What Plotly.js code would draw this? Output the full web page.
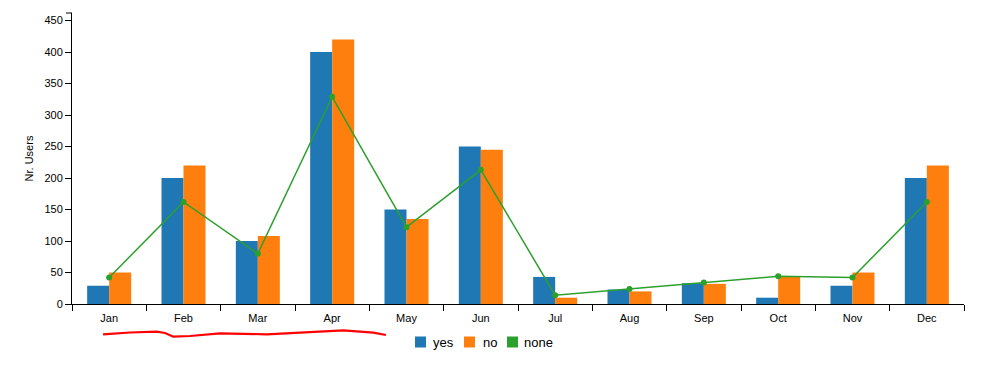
<!DOCTYPE html>
<html>
<head>
<meta charset="utf-8">
<script src="https://cdn.plot.ly/plotly-3.0.1.min.js"></script>
<style>html,body{margin:0;padding:0;background:#fff;}#chart{width:999px;height:370px;}</style>
</head>
<body>
<div id="chart"></div>
<script>
var months = ["Jan","Feb","Mar","Apr","May","Jun","Jul","Aug","Sep","Oct","Nov","Dec"];
var yesValues = [29, 200, 100, 400, 150, 250, 43, 23, 33, 10, 29, 200];
var noValues = [50, 220, 108, 420, 135, 245, 10, 20, 32, 43, 50, 220];
var noneValues = [42, 162, 80, 329, 122, 213, 14, 24, 34, 44, 42, 162];
var yTicks = [0, 50, 100, 150, 200, 250, 300, 350, 400, 450];
var seriesNames = ["yes", "no", "none"];
var seriesColors = ["#1f77b4", "#ff7f0e", "#2ca02c"];

var font = "Liberation Sans, Arial, sans-serif";
var M = {l: 72, r: 35, t: 13, b: 66};
var W = 999, H = 370;
var PW = W - M.l - M.r, PH = H - M.t - M.b;
function px(xp) { return (xp - M.l) / PW; }
function py(yp) { return (H - M.b - yp) / PH; }

var traces = [
  {type: "bar", name: seriesNames[0], x: months, y: yesValues, marker: {color: seriesColors[0]}},
  {type: "bar", name: seriesNames[1], x: months, y: noValues, marker: {color: seriesColors[1]}},
  {type: "scatter", mode: "lines+markers", name: seriesNames[2], x: months, y: noneValues,
   line: {color: seriesColors[2], width: 1.5}, marker: {color: seriesColors[2], size: 6}}
];

// manual legend (swatch squares + labels)
var legendSwatchX = [415, 464, 507];
var legendTextX = [431, 480.5, 522];
var shapes = [
  {type: "line", xref: "paper", yref: "paper", x0: px(66), x1: 0, y0: 1, y1: 1, line: {color: "#000", width: 1}},
  {type: "path", xref: "paper", yref: "paper",
   path: "M" + [[103,334.3],[130,332.5],[156.7,331.7],[165,333],[173.3,336.7],[190,336],[220,333.3],[266.7,334.3],[343.3,330.3],[373.3,332.7],[386,335]]
     .map(function(p){return px(p[0]).toFixed(4) + "," + py(p[1]).toFixed(4);}).join(" L"),
   line: {color: "#ff0000", width: 2.2}}
];
var annotations = [];
for (var i = 0; i < seriesNames.length; i++) {
  shapes.push({type: "rect", xref: "paper", yref: "paper",
    x0: px(legendSwatchX[i]), x1: px(legendSwatchX[i] + 11), y0: py(347.5), y1: py(336.5),
    fillcolor: seriesColors[i], line: {width: 0}});
  annotations.push({xref: "paper", yref: "paper", x: px(legendTextX[i]), y: py(342),
    xanchor: "left", yanchor: "middle", showarrow: false, text: seriesNames[i],
    font: {size: 13, family: font, color: "#000"}});
}

var layout = {
  width: W, height: H,
  margin: {l: M.l, r: M.r, t: M.t, b: M.b, autoexpand: false},
  paper_bgcolor: "#fff", plot_bgcolor: "#fff",
  font: {family: font, size: 11, color: "#000"},
  barmode: "group", bargap: 0.408, bargroupgap: 0,
  showlegend: false,
  xaxis: {
    type: "category", categoryarray: months, range: [-0.5, 11.5], tickson: "boundaries",
    ticks: "outside", ticklen: 6, tickcolor: "#000", showline: true, linecolor: "#000", linewidth: 1,
    showgrid: false, zeroline: false, ticklabelstandoff: 4,
    tickfont: {size: 11, family: font, color: "#000"}
  },
  yaxis: {
    range: [0, 462], tickvals: yTicks, ticks: "outside", ticklen: 6, tickcolor: "#000",
    showline: true, linecolor: "#000", linewidth: 1, showgrid: false, zeroline: false,
    tickfont: {size: 11, family: font, color: "#000"},
    title: {text: "Nr. Users", font: {size: 11, family: font, color: "#000"}, standoff: 8}
  },
  shapes: shapes,
  annotations: annotations
};

Plotly.newPlot("chart", traces, layout, {displayModeBar: false, staticPlot: true});
</script>
</body>
</html>
